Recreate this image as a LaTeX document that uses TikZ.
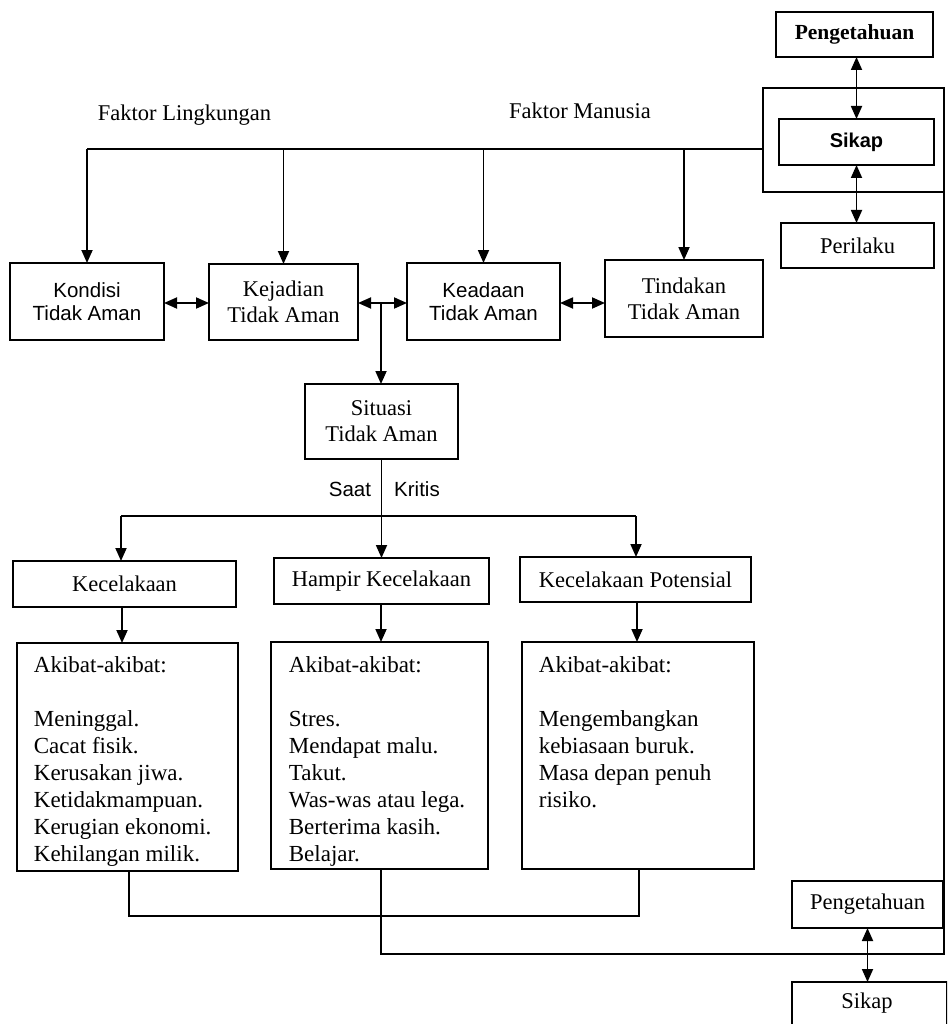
\documentclass[tikz,border=0pt]{standalone}
\usepackage{fontspec}
\setmainfont{Liberation Serif}
\newfontfamily\sansf{Liberation Sans}
\usetikzlibrary{arrows.meta}
\begin{document}
\begin{tikzpicture}[x=1pt,y=-1pt,line width=1.8pt,
  box/.style={draw, inner sep=0pt, outer sep=0pt, align=center},
  ser/.style={font=\fontsize{22.5}{26}\selectfont, align=center},
  san/.style={font=\sansf\fontsize{20.5}{23}\selectfont, align=center},
  akt/.style={anchor=north west, inner sep=0pt, align=left, font=\fontsize{23}{27}\selectfont},
  arr/.style={-{Triangle[length=13pt,width=11pt]}},
  darr/.style={{Triangle[length=13pt,width=11pt]}-{Triangle[length=13pt,width=11pt]}}]
\useasboundingbox (0,0) rectangle (947,1024);
\clip (0,0) rectangle (947,1024);
\fill[white] (0,0) rectangle (947,1024);

% top right group
\node[box, minimum width=157pt, minimum height=45pt, font=\bfseries\fontsize{21.5}{24}\selectfont] (pengT) at (854.5,34.5) {Pengetahuan};
\node[box, minimum width=181pt, minimum height=104pt] (grp) at (853.5,140) {};
\node[box, minimum width=155pt, minimum height=46pt, font=\sansf\bfseries\fontsize{20}{22}\selectfont] (sikapT) at (856.5,142) {Sikap};
\node[box, ser, minimum width=153pt, minimum height=45pt] (peril) at (857.5,245.5) {Perilaku};
\draw[darr] (pengT.south -| sikapT.north) -- (sikapT.north);
\draw[darr] (sikapT.south) -- (sikapT.south |- peril.north);

% labels
\node[ser] (fl) at (184.5,115) {Faktor Lingkungan};
\node[ser] (fm) at (580,111) {Faktor Manusia};

% row of four
\node[box, san, minimum width=154pt, minimum height=77pt] (kondisi) at (87,301.5) {Kondisi\\Tidak Aman};
\node[box, ser, minimum width=149pt, minimum height=76pt] (kejadian) at (283.5,302) {Kejadian\\Tidak Aman};
\node[box, san, minimum width=153pt, minimum height=77pt] (keadaan) at (483.5,301.5) {Keadaan\\Tidak Aman};
\node[box, ser, minimum width=158pt, minimum height=77pt] (tindakan) at (684,298.5) {Tindakan\\Tidak Aman};

\coordinate (h) at (763,149);
\draw (grp.west |- h) -- (kondisi.north |- h);
\foreach \n in {kondisi,kejadian,keadaan,tindakan} \draw[arr] (\n.north |- h) -- (\n.north);

\coordinate (r) at (0,303);
\draw[darr] (kondisi.east |- r) -- (kejadian.west |- r);
\draw[darr] (kejadian.east |- r) -- (keadaan.west |- r);
\draw[darr] (keadaan.east |- r) -- (tindakan.west |- r);

% situasi
\node[box, ser, minimum width=153pt, minimum height=75pt] (situasi) at (381.5,421.5) {Situasi\\Tidak Aman};
\coordinate (j) at (381,303);
\draw[arr] (j) -- (j |- situasi.north);

\node[san] (saat) at (350,489) {Saat};
\node[san] (kritis) at (417,489) {Kritis};

% three outcomes
\node[box, ser, minimum width=223pt, minimum height=46pt] (kec) at (124.5,584) {Kecelakaan};
\node[box, ser, minimum width=215pt, minimum height=46pt] (hampir) at (381.5,581) {Hampir Kecelakaan};
\node[box, ser, minimum width=231pt, minimum height=45pt] (pot) at (635.5,579.5) {Kecelakaan Potensial};

\draw[arr] (situasi.south) -- (situasi.south |- hampir.north);
\coordinate (b1) at (121,516);
\coordinate (b3) at (636,516);
\draw (b1) -- (b3);
\draw[arr] (b1) -- (b1 |- kec.north);
\draw[arr] (b3) -- (b3 |- pot.north);

% consequence boxes
\node[box, minimum width=221pt, minimum height=228pt] (ak1) at (127.5,757) {};
\node[box, minimum width=217pt, minimum height=227pt] (ak2) at (379.5,755.5) {};
\node[box, minimum width=232pt, minimum height=227pt] (ak3) at (638,755.5) {};

\node[akt] (t1) at (33,656) {Akibat-akibat:\\[27pt]Meninggal.\\Cacat fisik.\\Kerusakan jiwa.\\Ketidakmampuan.\\Kerugian ekonomi.\\Kehilangan milik.};
\node[akt] (t2) at (288,656) {Akibat-akibat:\\[27pt]Stres.\\Mendapat malu.\\Takut.\\Was-was atau lega.\\Berterima kasih.\\Belajar.};
\node[akt] (t3) at (538,656) {Akibat-akibat:\\[27pt]Mengembangkan\\kebiasaan buruk.\\Masa depan penuh\\risiko.};

\coordinate (c1) at (122,0);
\coordinate (c2) at (381,0);
\coordinate (c3) at (637,0);
\draw[arr] (c1 |- kec.south) -- (c1 |- ak1.north);
\draw[arr] (c2 |- hampir.south) -- (c2 |- ak2.north);
\draw[arr] (c3 |- pot.south) -- (c3 |- ak3.north);

% bottom feedback lines
\coordinate (d1) at (129,916);
\coordinate (d3) at (639,916);
\draw (d1 |- ak1.south) -- (d1) -- (d3) -- (d3 |- ak3.south);
\coordinate (e) at (944,954);
\draw (c2 |- ak2.south) -- (c2 |- e) -- (e) -- (grp.south east);

% bottom right
\node[box, ser, minimum width=151pt, minimum height=47pt] (pengB) at (867.5,904.5) {Pengetahuan};
\node[box, minimum width=155pt, minimum height=58pt] (sikapBox) at (869.5,1011) {};
\node[ser] (sikapB) at (867,1003) {Sikap};
\draw[darr] (pengB.south) -- (pengB.south |- sikapBox.north);
\end{tikzpicture}
\end{document}
